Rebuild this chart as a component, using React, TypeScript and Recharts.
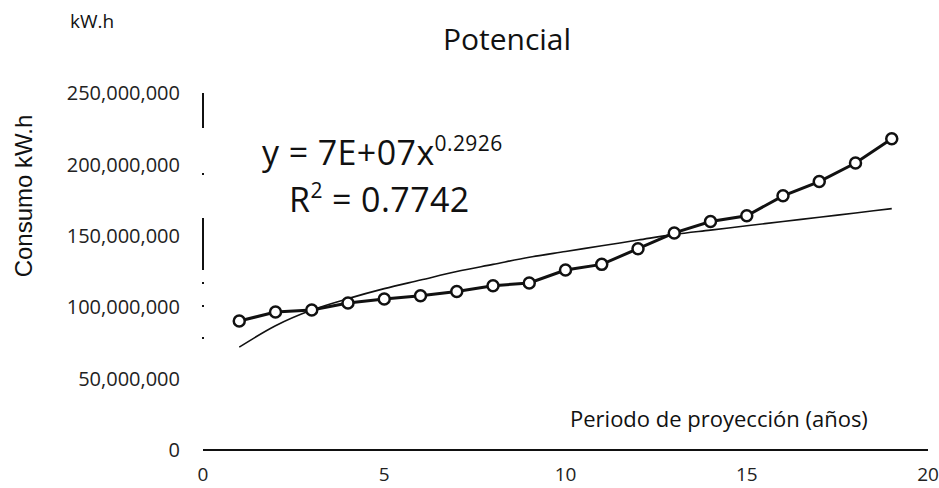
import { LineChart, Line, XAxis, YAxis } from 'recharts';

// Periodo de proyección (años)
const years = [1, 2, 3, 4, 5, 6, 7, 8, 9, 10, 11, 12, 13, 14, 15, 16, 17, 18, 19];

// Consumo proyectado, kW.h
const consumo = [
    90300000, 96600000, 98000000, 103000000, 105700000, 108000000, 111000000,
    115000000, 117000000, 126000000, 130000000, 141000000, 152000000,
    160000000, 164000000, 178000000, 188000000, 201000000, 218000000,
];

// Línea de tendencia potencial
const tendencia = [
    72000000, 87000000, 98000000, 106000000, 113000000, 119000000, 125000000,
    130000000, 135000000, 139000000, 143000000, 147000000, 151000000,
    154000000, 157000000, 160000000, 163000000, 166000000, 169000000,
];

const xTicks = [0, 5, 10, 15, 20];
const yTicks = [0, 50000000, 100000000, 150000000, 200000000, 250000000];

const data = years.map((x, i) => ({ x, consumo: consumo[i], tendencia: tendencia[i] }));

const TICK_FONT = '"Open Sans", sans-serif';

export default function App() {
    return (
        <div style={{ position: 'absolute', left: 0, top: 0, width: 939, height: 488, background: '#fff', overflow: 'hidden' }}>
            <LineChart width={939} height={488} data={data} margin={{ top: 93, right: 11, bottom: 0, left: 0 }}>
                <XAxis
                    type="number"
                    dataKey="x"
                    domain={[0, 20]}
                    ticks={xTicks}
                    height={38}
                    tickLine={false}
                    tickSize={0}
                    tickMargin={18}
                    axisLine={{ stroke: '#111', strokeWidth: 2 }}
                    tick={{ fontSize: 19, fill: '#222', fontFamily: TICK_FONT }}
                />
                <YAxis
                    domain={[0, 250000000]}
                    ticks={yTicks}
                    width={203}
                    tickLine={false}
                    tickSize={0}
                    tickMargin={23}
                    axisLine={{ stroke: '#111', strokeWidth: 2, strokeDasharray: '35 45 2 43 52 12 2 21 2 30 2 400' }}
                    tickFormatter={(v: number) => v.toLocaleString('en-US')}
                    tick={{ fontSize: 20, fill: '#222', fontFamily: TICK_FONT }}
                />
                <Line
                    type="monotone"
                    dataKey="tendencia"
                    stroke="#111"
                    strokeWidth={1.6}
                    dot={false}
                    activeDot={false}
                    isAnimationActive={false}
                />
                <Line
                    type="linear"
                    dataKey="consumo"
                    stroke="#111"
                    strokeWidth={3}
                    dot={{ r: 5.5, fill: '#fff', stroke: '#111', strokeWidth: 2.5 }}
                    activeDot={false}
                    isAnimationActive={false}
                />
            </LineChart>

            {/* Titles and labels */}
            <div style={{ position: 'absolute', left: 70, top: 8, fontFamily: TICK_FONT, fontSize: 19, color: '#111' }}>kW.h</div>
            <div style={{ position: 'absolute', left: 407, width: 200, textAlign: 'center', top: 18, fontFamily: TICK_FONT, fontSize: 30, color: '#111' }}>Potencial</div>
            <div style={{
                position: 'absolute', left: 24, top: 196, transform: 'translate(-50%, -50%) rotate(-90deg)',
                whiteSpace: 'nowrap', fontFamily: '"Liberation Sans", Arial, sans-serif', fontSize: 24, color: '#111',
            }}>Consumo kW.h</div>
            <div style={{ position: 'absolute', left: 262, top: 129, fontFamily: TICK_FONT, fontSize: 34, letterSpacing: 0.4, color: '#111', whiteSpace: 'nowrap' }}>
                y = 7E+07x<span style={{ fontSize: 21, position: 'relative', top: -14 }}>0.2926</span>
            </div>
            <div style={{ position: 'absolute', left: 289, top: 176, fontFamily: TICK_FONT, fontSize: 34, letterSpacing: 0.4, color: '#111', whiteSpace: 'nowrap' }}>
                R<span style={{ fontSize: 21, position: 'relative', top: -14 }}>2</span> = 0.7742
            </div>
            <div style={{ position: 'absolute', left: 570, top: 403, fontFamily: TICK_FONT, fontSize: 22, color: '#111', whiteSpace: 'nowrap' }}>
                Periodo de proyección (años)
            </div>
        </div>
    );
}
